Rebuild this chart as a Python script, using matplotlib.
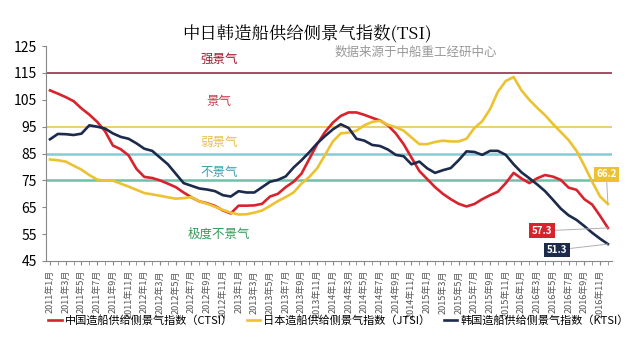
import matplotlib
matplotlib.use('Agg')
import matplotlib.pyplot as plt
import numpy as np

plt.rcParams['font.family'] = ['Noto Sans CJK SC', 'DejaVu Sans']

# monthly data, 2011-01 .. 2016-12
months = ['%d年%d月' % (y, m) for y in range(2011, 2017) for m in range(1, 13)]

ctsi = [108.5, 107.3, 106.0, 104.5, 101.8, 99.5, 96.8, 93.3, 88.0, 86.6, 84.3, 79.3,
        76.3, 75.9, 75.0, 73.8, 72.5, 70.5, 68.7, 67.2, 66.5, 65.5, 63.8, 62.7,
        65.6, 65.6, 65.7, 66.3, 69.0, 70.0, 72.5, 74.5, 77.5, 83.0, 88.5, 93.0,
        96.5, 99.0, 100.3, 100.3, 99.4, 98.3, 97.3, 95.5, 92.5, 88.5, 83.5, 78.5,
        75.5, 72.5, 70.0, 68.0, 66.3, 65.3, 66.2, 68.0, 69.5, 70.8, 74.0, 77.8,
        75.7, 74.0, 75.8, 77.0, 76.4, 75.2, 72.3, 71.5, 68.0, 66.0, 61.8, 57.3]

jtsi = [82.8, 82.5, 82.0, 80.5, 79.0, 77.0, 75.3, 74.9, 74.9, 73.8, 72.7, 71.5,
        70.3, 69.8, 69.3, 68.7, 68.2, 68.4, 68.8, 67.2, 66.3, 65.2, 64.0, 63.0,
        62.3, 62.4, 63.0, 63.8, 65.5, 67.3, 68.8, 70.5, 73.8, 76.3, 79.5, 84.5,
        89.5, 92.5, 92.8, 93.5, 95.5, 96.8, 97.2, 95.7, 94.8, 93.5, 91.0, 88.5,
        88.5, 89.3, 89.8, 89.5, 89.5, 90.5, 94.5, 97.0, 101.5, 108.0, 112.0, 113.5,
        108.5, 105.0, 102.0, 99.3, 96.0, 93.0, 90.0, 86.0, 80.5, 74.5, 69.0, 66.2]

ktsi = [90.3, 92.3, 92.2, 91.9, 92.4, 95.5, 95.0, 94.3, 92.5, 91.2, 90.5, 88.8,
        86.8, 86.0, 83.5, 81.0, 77.5, 74.0, 73.0, 72.0, 71.6, 71.0, 69.5, 69.0,
        71.0, 70.5, 70.5, 72.5, 74.5, 75.2, 76.5, 79.8, 82.5, 85.5, 88.8, 91.5,
        94.0, 95.9, 94.5, 90.5, 89.8, 88.2, 87.8, 86.5, 84.5, 84.0, 81.0, 82.0,
        79.5, 77.8, 78.8, 79.6, 82.5, 85.8, 85.6, 84.5, 86.0, 86.0, 84.5, 81.0,
        78.0, 75.8, 73.5, 71.0, 67.8, 64.5, 62.0, 60.3, 58.0, 55.5, 53.3, 51.3]

levels = [115, 95, 85, 75]
level_colors = ['#8E1B3A', '#E9C24A', '#86CBD6', '#6FC0A8']
zones = ['强景气', '景气', '弱景气', '不景气', '极度不景气']
zone_y = [120, 104.5, 89, 78, 55]
zone_colors = ['#9B1B30', '#C2404F', '#E8C050', '#3E9FB0', '#3C9A5C']

red = '#D8232F'
yellow = '#ECC232'
navy = '#1C2B4C'

fig = plt.figure(figsize=(6.4, 3.6), dpi=100)
ax = fig.add_axes([0.072, 0.275, 0.884, 0.597])

x = np.arange(len(months))
for lv, c in zip(levels, level_colors):
    lw = 1.8 if lv in (85, 75) else 1.1
    ax.axhline(lv, color=c, lw=lw, zorder=1)

l1, = ax.plot(x, ctsi, color=red, lw=1.9, zorder=3)
l2, = ax.plot(x, jtsi, color=yellow, lw=1.9, zorder=3)
l3, = ax.plot(x, ktsi, color=navy, lw=1.9, zorder=3)

for t, yv, c in zip(zones, zone_y, zone_colors):
    ax.text(21.5, yv, t, color=c, fontsize=9, ha='center', va='center')

# end-value labels
labs = [(ctsi, red, (62.6, 56.2)), (ktsi, navy, (64.5, 49.1)), (jtsi, yellow, (70.8, 77.3))]
for s, c, pos in labs:
    ax.annotate('%.1f' % s[-1], xy=(x[-1], s[-1]), xytext=pos, fontsize=7,
                color='white', fontweight='bold', ha='center', va='center',
                bbox=dict(boxstyle='square,pad=0.25', fc=c, ec='none'),
                arrowprops=dict(arrowstyle='-', color='#B0B0B0', lw=0.7,
                                shrinkA=0, shrinkB=0), zorder=5)

ax.set_xlim(-0.5, 71.5)
ax.set_ylim(45, 125)
ax.set_yticks(range(45, 126, 10))
ax.tick_params(axis='y', labelsize=10, length=3, color='#888888')
ax.set_xticks(x, minor=True)
ax.set_xticks(x[::2])
ax.set_xticklabels(months[::2], rotation=90, fontsize=6.5, color='#555555')
ax.tick_params(axis='x', which='both', length=3, color='#888888')
for s in ['top', 'right']:
    ax.spines[s].set_visible(False)
ax.spines['left'].set_color('#888888')
ax.spines['bottom'].set_color('#888888')

fig.text(0.48, 0.905, '中日韩造船供给侧景气指数(TSI)', fontsize=12.5, ha='center',
         va='center', family=['Noto Serif CJK SC', 'Noto Sans CJK SC', 'DejaVu Serif'])
fig.text(0.65, 0.855, '数据来源于中船重工经研中心', fontsize=9, ha='center',
         va='center', color='#999999')

fig.legend([l1, l2, l3],
           ['中国造船供给侧景气指数（CTSI）', '日本造船供给侧景气指数（JTSI）',
            '韩国造船供给侧景气指数（KTSI）'],
           loc='center left', bbox_to_anchor=(0.06, 0.11), ncol=3, frameon=False,
           fontsize=8, handlelength=1.2, handletextpad=0.3, columnspacing=1.2)

fig.savefig('out.png', dpi=100)
